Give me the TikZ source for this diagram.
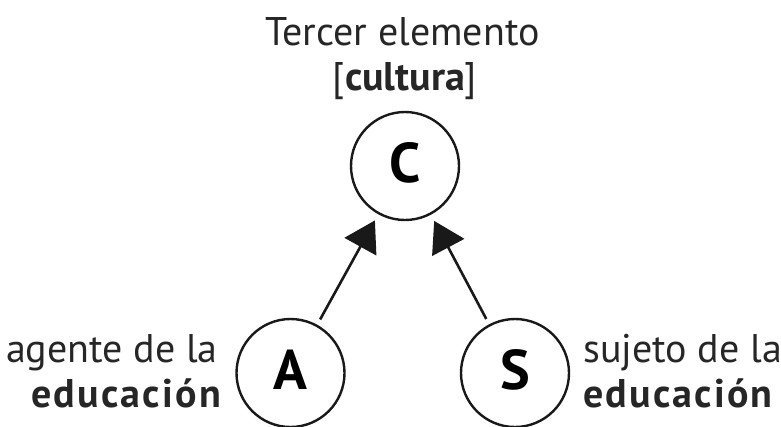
\documentclass[tikz,border=0pt]{standalone}
\usepackage{fontspec}
\setmainfont{PT Sans}
\usetikzlibrary{arrows.meta}
\newcommand{\spacedbold}[1]{{\bfseries\addfontfeatures{LetterSpace=5.5}#1}}
\begin{document}
\begin{tikzpicture}[x=1pt,y=1pt,
  ring/.style={circle,draw=black!90,line width=2.4pt,minimum size=108pt,inner sep=0pt},
  letter/.style={inner sep=0pt,font=\fontsize{56}{62}\selectfont\bfseries},
  lbl/.style={inner sep=0pt,font=\fontsize{40}{46}\selectfont,text=black!85},
  link/.style={line width=2.6pt,draw=black!90,
    -{Triangle[length=30pt,width=36pt]},shorten >=7pt,shorten <=6pt}]
\fill[white] (0,0) rectangle (781,-426);
\useasboundingbox (0,0) rectangle (781,-426);
\node[lbl,anchor=base] (t1) at (402.5,-45) {Tercer elemento};
\node[lbl,anchor=base] (t2) at (405,-90) {[\textbf{cultura}]};
\node[ring] (C) at (405,-166) {};
\node[ring] (A) at (290.5,-373) {};
\node[ring] (S) at (515,-373) {};
\node[letter] (Ct) at (405,-163) {C};
\node[letter] (At) at (290.5,-370) {A};
\node[letter] (St) at (515,-370) {S};
\node[lbl,anchor=base east] (a1) at (218,-362) {agente de la};
\node[lbl,anchor=base east] (a2) at (221,-407) {\spacedbold{educación}};
\node[lbl,anchor=base west] (s1) at (583,-362) {sujeto de la};
\node[lbl,anchor=base west] (s2) at (583,-407) {\spacedbold{educación}};
\draw[link] (A) -- (C);
\draw[link] (S) -- (C);
\end{tikzpicture}
\end{document}
